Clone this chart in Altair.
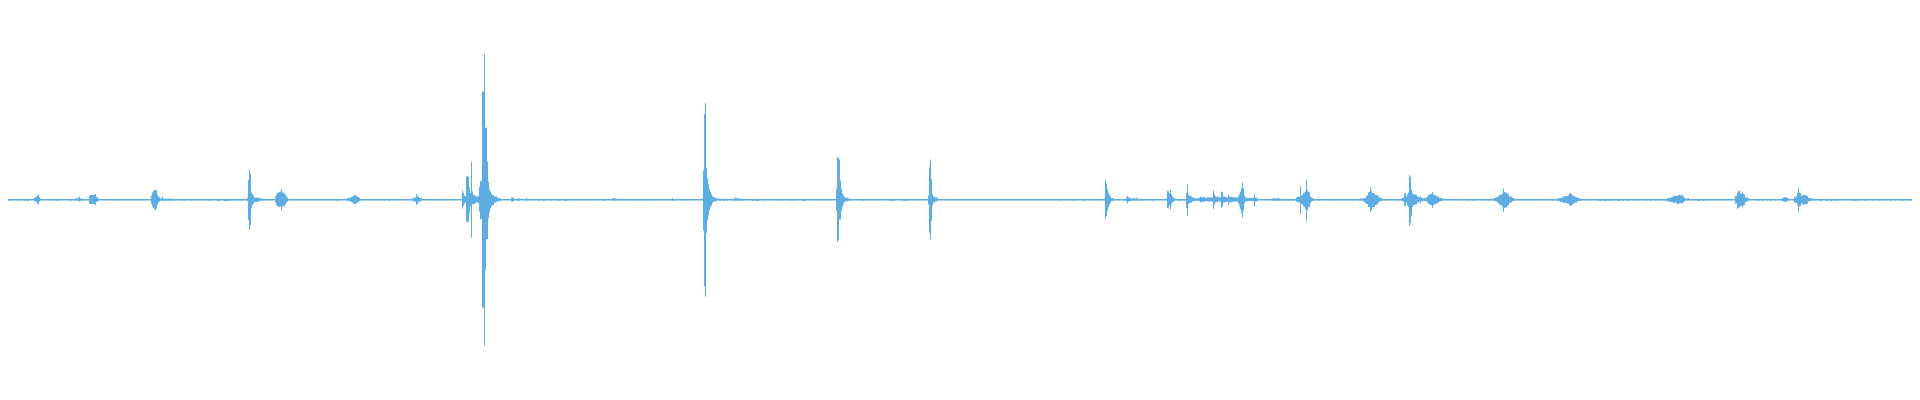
import altair as alt
import pandas as pd

WAVE_COLOR = "#5DADE2"

# Waveform bursts: first sample column, then per-column upward / downward peak amplitudes (px)
event_starts = [33, 75, 89, 151, 247, 275, 347, 411, 462, 511, 517, 526, 612, 620, 672,
                702, 733, 836, 928, 1104, 1126, 1132, 1166, 1186, 1199, 1272, 1296,
                1360, 1401, 1493, 1557, 1667, 1735, 1782, 1794, 1913]
event_up = [
    [1, 2, 2, 3, 4, 5, 2, 1],
    [1, 1, 2, 1, 3, 1, 1, 1],
    [4, 4.5, 4.5, 4.5, 4.5, 4.5, 5.5, 2.5, 2, 1],
    [4, 7, 8.5, 9.5, 10, 9, 5, 3, 2, 1, 1, 3, 1, 1, 1, 1, 0.5, 1, 1, 0.5, 1, 1, 0.5],
    [2, 19.5, 29.5, 25.5, 7, 5.5, 4, 2, 2, 2, 2, 1.5, 1.5, 1, 1, 1],
    [3, 5, 6.5, 7, 7.5, 8, 10, 7, 7, 6, 5, 3, 2, 1],
    [2, 1, 1.5, 2, 2.5, 3, 3.5, 4.5, 4.5, 3.5, 3, 2.5, 1.5],
    [1, 0.5, 2, 2, 2, 5.5, 3, 3, 2, 1.5, 1.5],
    [9, 6.5, 4, 3, 23, 23.5, 22.5, 12.5, 6.5, 37.5, 8, 5, 4, 3.5, 3, 3, 3.5, 12.5, 18.5, 18.5,
     108, 108, 145.5, 72, 72, 38, 18, 10, 8, 6, 4.5, 4.5, 3, 3, 3, 2, 1.5, 1.5, 1],
    [2, 2, 2],
    [1, 1, 1],
    [2],
    [1, 1.5, 1.5, 1, 1],
    [1.5],
    [1.5],
    [1, 29, 85.5, 96.5, 31.5, 21, 15, 10.5, 7.5, 5, 3.5, 2, 2, 2, 1, 1, 1, 1, 1],
    [1, 1, 2, 1, 2, 1, 1, 1],
    [10, 42.5, 41.5, 40, 19, 10.5, 6, 4, 2.5, 2, 1.5, 1.5, 1, 1, 1],
    [4, 32.5, 40, 20.5, 5.5, 3, 2.5, 2, 2, 2],
    [1, 19.5, 15.5, 10.5, 7, 4.5, 3, 1.5, 1.5, 1],
    [2, 3.5, 2, 2, 1.5],
    [1, 1.5, 1, 1, 2, 1],
    [1, 8.5, 8.5, 6.5, 9.5, 4.5, 3, 2, 1.5],
    [6.5, 15, 5, 3.5, 4, 3, 2, 2, 1, 1.5, 1, 1.5, 1],
    [2, 3, 2.5, 2, 3, 2, 1.5, 2, 2, 2, 2, 2, 2, 2, 9, 5, 3, 2.5, 3, 2, 2.5, 2, 8, 7, 3, 3,
     2.5, 2.5, 2, 5, 3, 3, 2.5, 2.5, 2, 2.5, 2, 2, 2, 3, 5.5, 8, 11.5, 17, 10.5, 4, 2, 2,
     1.5, 1.5, 1.5, 1.5, 1.5, 1.5, 2, 5, 2, 2, 1],
    [1, 1, 1.5, 1, 1, 1, 2, 1, 1],
    [2, 2.5, 3, 2.5, 13, 4, 4.5, 6.5, 7, 8, 20, 9.5, 7.5, 7, 3, 2, 1.5, 1],
    [1, 1, 1, 1, 1.5, 1.5, 4, 4, 7, 7.5, 12.5, 8.5, 6.5, 6.5, 6, 4.5, 4.5, 4.5, 3, 2, 1.5, 2],
    [1, 1.5, 2, 6, 6.5, 3, 5.5, 7, 24.5, 22.5, 9.5, 6.5, 5, 5, 5, 4.5, 3, 3, 2, 3, 2, 1.5,
     1, 1.5, 1, 2, 2.5, 4.5, 4.5, 5.5, 5.5, 7.5, 5, 4.5, 4, 4, 3, 3, 2, 1.5, 1.5, 1],
    [1, 1.5, 1.5, 2, 3, 3, 4.5, 5, 5, 6, 11, 7.5, 7, 7, 5.5, 5.5, 3, 3, 3, 1.5, 1.5, 1],
    [1, 1, 1.5, 1.5, 1.5, 2, 3, 3.5, 3, 3.5, 3.5, 4, 6.5, 6, 5.5, 4, 3.5, 3, 2.5, 2.5, 1.5,
     1.5, 1, 1],
    [1.5, 1.5, 1.5, 2, 2, 2.5, 3.5, 3.5, 3.5, 3.5, 3.5, 5, 4.5, 4, 4.5, 5, 2.5, 2, 1, 1, 1, 1.5],
    [3.5, 3.5, 7, 8.5, 8.5, 6, 6, 8, 5.5, 5, 2, 2, 2, 1],
    [1.5, 2, 2, 2.5, 2, 1.5, 1],
    [2.5, 2.5, 3, 6.5, 11.5, 7, 6.5, 3.5, 4, 4.5, 4.5, 4.5, 4, 3.5, 2, 1.5, 1.5, 1, 1, 1],
    [1.5, 2.5, 2.5, 1.5, 1],
]
event_down = [
    [1, 1, 2, 3, 4, 5, 2, 1],
    [1, 1, 1, 1, 2, 1, 1, 1],
    [4, 4.5, 4.5, 4.5, 4.5, 4.5, 5.5, 2.5, 2, 1],
    [4, 7, 8.5, 10, 10.5, 9, 5, 3, 2, 1, 1, 2, 1, 1, 1, 1, 1, 1, 1, 1, 1, 1, 1],
    [2, 20.5, 30, 25.5, 9, 5.5, 4, 2.5, 2.5, 2.5, 2.5, 2, 1.5, 1, 1, 1],
    [3, 5, 6.5, 7, 7.5, 7, 11, 7, 7, 6, 5, 3, 2, 1],
    [2, 1, 1.5, 2, 2.5, 3, 4, 4.5, 4.5, 4, 3, 2.5, 1.5],
    [1, 0.5, 2, 2, 2, 5.5, 3.5, 3, 2, 1.5, 1.5],
    [9, 6.5, 4, 3, 22.5, 23, 21.5, 14, 7, 38, 5, 5, 4, 3.5, 3, 3, 3.5, 12, 20, 19,
     108, 108, 146, 71, 40, 39.5, 19, 13, 9, 7, 5.5, 5.5, 3, 3, 2.5, 2, 1.5, 1.5, 1],
    [2, 2, 2],
    [1, 1, 1],
    [2],
    [1, 1, 1, 1, 1],
    [1],
    [1.5],
    [1, 31, 87, 97, 33.5, 21, 16, 11, 7.5, 6, 3.5, 2, 2, 2, 1, 1, 1, 1, 1],
    [1, 1, 1, 1, 1, 1, 1, 1],
    [11, 42.5, 41, 20, 20, 11, 7, 4.5, 2.5, 2, 1.5, 1.5, 1, 1, 1],
    [5, 33.5, 40, 21.5, 6, 3, 2.5, 2, 2, 1],
    [1, 19.5, 16.5, 11.5, 7.5, 5, 3.5, 1.5, 1.5, 1],
    [2, 4, 2, 2, 1.5],
    [1, 1, 1, 1, 1, 1],
    [1, 8.5, 9, 6, 10, 4.5, 3, 2, 1.5],
    [8.5, 16.5, 4.5, 3.5, 3.5, 3, 2, 2, 1, 1.5, 1, 1.5, 1],
    [2, 3, 2.5, 2, 2.5, 2, 1.5, 2, 2, 2, 2, 2, 2, 2, 9.5, 5, 3, 2.5, 3, 2, 2, 2, 8.5, 7, 3,
     3, 2.5, 2.5, 2, 5.5, 3, 3, 2.5, 2.5, 2, 2, 2, 2, 2, 3.5, 6, 9.5, 13.5, 18, 11, 4, 2, 2,
     1.5, 1.5, 1.5, 1.5, 1.5, 1.5, 2, 7, 2, 2, 1],
    [1, 1, 1, 1, 1, 1, 1.5, 1, 1],
    [2, 2.5, 3, 2.5, 14.5, 4.5, 5, 7, 7, 9.5, 21.5, 11, 7.5, 7.5, 3.5, 2, 1.5, 1],
    [1, 1, 1, 1, 3, 3, 4.5, 4.5, 7.5, 7.5, 12.5, 10.5, 8, 7.5, 7.5, 5.5, 5, 5, 3, 2, 1.5, 1],
    [1, 1.5, 2, 6, 7, 3, 6, 7.5, 26.5, 23.5, 16, 7.5, 5.5, 5.5, 5, 5, 3, 3, 2, 4, 2, 1.5,
     1, 1.5, 1, 2, 2.5, 4.5, 4.5, 5.5, 5.5, 8.5, 5.5, 5, 4.5, 4, 3.5, 3, 2, 1.5, 1.5, 1],
    [1, 1.5, 1.5, 2, 3, 3.5, 5, 5.5, 5.5, 7, 12.5, 8.5, 8, 8, 6, 6, 3.5, 3, 3, 1.5, 1.5, 1],
    [1, 1, 1.5, 2.5, 2.5, 2.5, 3.5, 3.5, 3, 4, 4, 4, 5.5, 6.5, 6, 5, 4.5, 3, 3, 3, 2, 1.5,
     1.5, 1],
    [2, 2, 2, 2.5, 2.5, 2.5, 3.5, 3.5, 3, 3.5, 4.5, 4.5, 3.5, 3.5, 4, 4, 2.5, 2, 1, 1, 1, 1],
    [4, 4, 9.5, 8, 8, 6.5, 6.5, 7.5, 6, 5.5, 2.5, 2.5, 2, 1],
    [1.5, 2, 2, 3, 2, 1.5, 1],
    [3, 3, 3.5, 5.5, 12.5, 7, 6.5, 4, 4.5, 5, 5, 5, 4.5, 4, 2, 1.5, 1.5, 1, 1, 1],
    [1.5, 3.5, 3, 1.5, 1],
]

# Isolated one-pixel noise specks along the baseline
tick_cols = [9, 11, 17, 24, 27, 28, 53, 56, 71, 114, 182, 185, 191, 208, 211, 217, 218, 219,
             224, 225, 226, 227, 230, 235, 238, 241, 336, 362, 384, 389, 539, 543, 545, 551,
             559, 564, 565, 566, 573, 603, 604, 622, 627, 630, 633, 638, 642, 645, 651, 654,
             674, 684, 723, 727, 743, 752, 755, 756, 757, 758, 763, 779, 782, 790, 793, 802,
             803, 804, 863, 889, 890, 892, 893, 903, 904, 906, 907, 1060, 1072, 1074, 1082,
             1084, 1124, 1139, 1142, 1152, 1178, 1179, 1182, 1184, 1318, 1330, 1333, 1340,
             1348, 1353, 1358, 1283, 1286, 1288, 1291, 1293, 1382, 1385, 1395, 1398, 1468,
             1472, 1474, 1485, 1488, 1523, 1530, 1552, 1556, 1589, 1599, 1600, 1602, 1604,
             1605, 1606, 1608, 1610, 1613, 1617, 1618, 1620, 1623, 1627, 1629, 1635, 1638,
             1646, 1650, 1655, 1660, 1665, 1692, 1697, 1698, 1700, 1703, 1705, 1707, 1758,
             1762, 1767, 1770, 1775, 1820, 1821, 1826, 1827, 1830, 1831, 1833, 1835, 1837,
             1852, 1853, 1855, 1857, 1858, 1864, 1872, 1878, 1883, 1890, 1895, 1900, 1903,
             1910]
tick_up = 0.5
tick_down = 1.5

# Baseline extent (column range) and its upper / lower thickness
baseline_range = [0, 1920]
baseline_up = 0.5
baseline_down = 1.0

rows = []
for start, ups, downs in zip(event_starts, event_up, event_down):
    for i, (u, d) in enumerate(zip(ups, downs)):
        rows.append({"col": start + i, "col_end": start + i + 1, "top": u, "bottom": -d})
for c in tick_cols:
    rows.append({"col": c, "col_end": c + 1, "top": tick_up, "bottom": -tick_down})
rows.append({"col": baseline_range[0], "col_end": baseline_range[1],
             "top": baseline_up, "bottom": -baseline_down})
df = pd.DataFrame(rows)

W, H = 1904, 384
x_scale = alt.Scale(domain=[8, 8 + W], nice=False, zero=False)
y_scale = alt.Scale(domain=[-(H - 191.5), 191.5], nice=False, zero=False)

chart = (
    alt.Chart(df)
    .mark_rect(color=WAVE_COLOR, clip=True)
    .encode(
        x=alt.X("col:Q", scale=x_scale, axis=None),
        x2="col_end:Q",
        y=alt.Y("top:Q", scale=y_scale, axis=None),
        y2="bottom:Q",
    )
    .properties(width=W, height=H, padding=0, autosize="none", background="white")
    .configure_view(stroke=None)
)

chart.save("out.html", embed_options={"renderer": "svg", "actions": False})
